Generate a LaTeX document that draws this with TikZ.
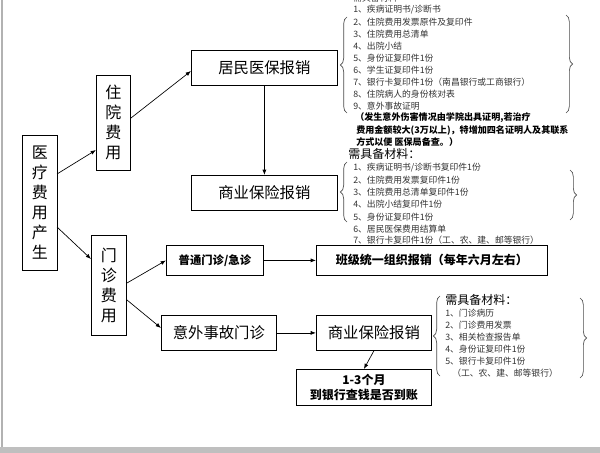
\documentclass[tikz,border=0pt]{standalone}
\usepackage{fontspec}
\setmainfont{Noto Sans CJK SC}
\usetikzlibrary{decorations.pathreplacing,arrows.meta}
\begin{document}
\begin{tikzpicture}[x=0.75pt,y=-0.75pt,
  bx/.style={draw,line width=0.6pt,inner sep=0pt,anchor=north west},
  ar/.style={-{Latex[length=4pt,width=3pt]},line width=0.5pt},
  lst/.style={anchor=west,inner sep=0pt,font=\fontsize{6.6}{7}\selectfont,text=black!80},
  br/.style={decorate,decoration={brace,amplitude=5pt},line width=0.5pt,draw=black!70}]
\useasboundingbox (0,0) rectangle (600,453);
\fill[white] (0,0) rectangle (600,453);
\fill[black!25] (0,447) rectangle (600,453);
\draw[black!30,line width=1pt] (2,0) -- (2,447);
% boxes
\node[bx,minimum width=35*0.75pt,minimum height=135*0.75pt,align=center,font=\fontsize{12}{15}\selectfont] (yl) at (22,135) {医\\疗\\费\\用\\产\\生};
\node[bx,minimum width=34*0.75pt,minimum height=95*0.75pt,align=center,font=\fontsize{12}{15}\selectfont] (zy) at (96,75) {住\\院\\费\\用};
\node[bx,minimum width=35*0.75pt,minimum height=100*0.75pt,align=center,font=\fontsize{12}{15}\selectfont] (mz) at (91,235) {门\\诊\\费\\用};
\node[bx,minimum width=146*0.75pt,minimum height=35*0.75pt,font=\fontsize{11.5}{13}\selectfont] (jm) at (191,50) {居民医保报销};
\node[bx,minimum width=146*0.75pt,minimum height=35*0.75pt,font=\fontsize{11.5}{13}\selectfont] (sy1) at (191,175) {商业保险报销};
\node[bx,minimum width=97*0.75pt,minimum height=30*0.75pt,font=\bfseries\fontsize{8.5}{10}\selectfont] (pt) at (166,245) {普通门诊/急诊};
\node[bx,minimum width=231*0.75pt,minimum height=30*0.75pt,font=\bfseries\fontsize{9}{10}\selectfont] (bj) at (316,245) {班级统一组织报销（每年六月左右）};
\node[bx,minimum width=115*0.75pt,minimum height=35*0.75pt,font=\fontsize{11.5}{13}\selectfont] (yw) at (161,315) {意外事故门诊};
\node[bx,minimum width=115*0.75pt,minimum height=35*0.75pt,font=\fontsize{11.5}{13}\selectfont] (sy2) at (316,315) {商业保险报销};
\node[bx,minimum width=135*0.75pt,minimum height=36*0.75pt,align=center,font=\bfseries\fontsize{9}{11}\selectfont] (dz) at (296,369) {1-3个月\\到银行查钱是否到账};
% arrows
\coordinate (a1) at (57,174); \coordinate (a2) at (57,227);
\coordinate (a3) at (131,118); \coordinate (a4) at (127,283); \coordinate (a5) at (127,300);
\draw[ar] (a1) -- (zy.west|-0,150);
\draw[ar] (a2) -- (mz.west|-0,259);
\draw[ar] (a3) -- (jm.west|-0,71);
\draw[ar] (a4) -- (pt.west);
\draw[ar] (a5) -- (yw.west|-0,328);
\draw[ar] (jm.south) -- (sy1.north);
\draw[ar] (pt.east) -- (bj.west);
\draw[ar] (yw.east) -- (sy2.west);
\draw[ar] (sy2.south) -- (dz.north);
% list 1
\node[lst] (h0) at (353,-2) {需具备材料};
\node[lst] (l1) at (353,10) {1、疾病证明书/诊断书};
\node[lst] at (353,22) {2、住院费用发票原件及复印件};
\node[lst] at (353,34) {3、住院费用总清单};
\node[lst] at (353,46) {4、出院小结};
\node[lst] at (353,58) {5、身份证复印件1份};
\node[lst] at (353,70) {6、学生证复印件1份};
\node[lst] at (353,82) {7、银行卡复印件1份（南昌银行或工商银行）};
\node[lst] at (353,94) {8、住院病人的身份核对表};
\node[lst] at (353,106) {9、意外事故证明};
\node[lst,font=\bfseries\fontsize{6.8}{7}\selectfont,text=black] at (355,118) {（发生意外伤害情况由学院出具证明,若治疗};
\node[lst,font=\bfseries\fontsize{6.8}{7}\selectfont,text=black] at (356,130) {费用金额较大(3万以上)，特增加四名证明人及其联系};
\node[lst,font=\bfseries\fontsize{6.8}{7}\selectfont,text=black] at (356,142) {方式以便 医保局备查。）};
\coordinate (b1a) at (347,113); \coordinate (b1b) at (347,17);
\coordinate (b1c) at (566,15); \coordinate (b1d) at (566,113);
\draw[br] (b1a) -- (b1b);
\draw[br] (b1c) -- (b1d);
% list 2
\node[lst,font=\fontsize{9}{10}\selectfont,text=black] at (348,154) {需具备材料：};
\node[lst] at (353,168) {1、疾病证明书/诊断书复印件1份};
\node[lst] at (353,180) {2、住院费用发票复印件1份};
\node[lst] at (353,192) {3、住院费用总清单复印件1份};
\node[lst] at (353,204) {4、出院小结复印件1份};
\node[lst] at (353,217) {5、身份证复印件1份};
\node[lst] at (353,229) {6、居民医保费用结算单};
\node[lst] at (353,240) {7、银行卡复印件1份（工、农、建、邮等银行）};
\coordinate (b2a) at (347,222); \coordinate (b2b) at (347,162);
\coordinate (b2c) at (570,170); \coordinate (b2d) at (570,220);
\draw[br] (b2a) -- (b2b);
\draw[br] (b2c) -- (b2d);
% list 3
\node[lst,font=\fontsize{9}{10}\selectfont,text=black] at (445,300) {需具备材料：};
\node[lst] at (445,313) {1、门诊病历};
\node[lst] at (445,325) {2、门诊费用发票};
\node[lst] at (445,337) {3、相关检查报告单};
\node[lst] at (445,349) {4、身份证复印件1份};
\node[lst] at (445,361) {5、银行卡复印件1份};
\node[lst] at (452,373) {（工、农、建、邮等银行）};
\coordinate (b3a) at (440,376); \coordinate (b3b) at (440,296);
\coordinate (b3c) at (580,298); \coordinate (b3d) at (580,378);
\draw[br] (b3a) -- (b3b);
\draw[br] (b3c) -- (b3d);
\end{tikzpicture}
\end{document}
